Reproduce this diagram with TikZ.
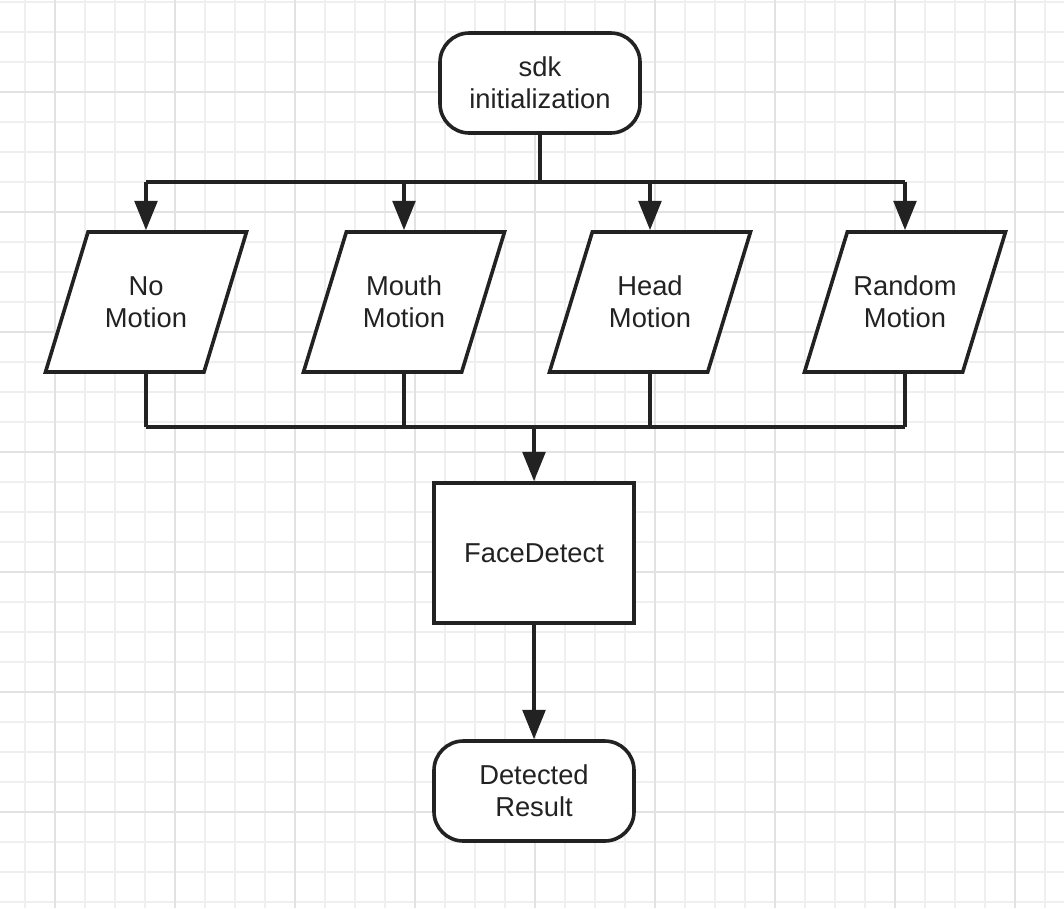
\documentclass[tikz,border=0pt]{standalone}
\usepackage{fontspec}
\setmainfont{Liberation Sans}
\usetikzlibrary{arrows.meta,shapes.geometric}
\definecolor{inkgray}{HTML}{222222}
\definecolor{gridminor}{HTML}{EFEFEF}
\definecolor{gridmajor}{HTML}{E2E2E2}
\tikzset{
	base/.style={draw=inkgray, line width=2.7pt, fill=white, text=inkgray,
		font=\fontsize{20.5}{24}\selectfont, align=center, inner sep=0pt},
	terminal/.style={base, rectangle, rounded corners=22pt,
		minimum width=150pt, minimum height=75pt},
	io/.style={base, trapezium, trapezium left angle=73, trapezium right angle=107,
		trapezium stretches body, inner xsep=0pt, inner ysep=33pt,
		minimum width=150.75pt, minimum height=105pt},
	process/.style={base, rectangle, minimum width=150pt, minimum height=105pt},
	link/.style={draw=inkgray, line width=2.7pt},
	arr/.style={link, -{Triangle[length=22pt,width=17pt]}}
}

\begin{document}
\begin{tikzpicture}[x=0.75pt, y=-0.75pt]
	%%%%% GRID %%%%%
	\fill[white] (0,0) rectangle (1064,908);
	\useasboundingbox (0,0) rectangle (1064,908);
	\begin{scope}[shift={(25,2)}]
		\draw[gridminor, line width=0.8pt, step=22.5pt] (-25,-2) grid (1039,906);
	\end{scope}
	\begin{scope}[shift={(55,92)}]
		\draw[gridmajor, line width=0.9pt, step=90pt] (-55,-92) grid (1009,816);
	\end{scope}
	
	%%%%% NODES %%%%%
	\node[terminal] (init) at (540, 83) {sdk\\initialization};
	
	\node[io] (nomotion) at (146, 302) {No\\Motion};
	\node[io] (mouth) at (404, 302) {Mouth\\Motion};
	\node[io] (head) at (650, 302) {Head\\Motion};
	\node[io] (random) at (905, 302) {Random\\Motion};
	
	\node[process] (detect) at (534, 553) {FaceDetect};
	\node[terminal] (result) at (534, 791) {Detected\\Result};
	
	\coordinate (split) at (540, 182);
	\coordinate (join) at (534, 427);
	
	%%%%% CONNECTORS %%%%%
	\draw[link] (init) -- (split);
	\draw[link] (nomotion |- split) -- (random |- split);
	\draw[arr] (nomotion |- split) -- (nomotion |- nomotion.north);
	\draw[arr] (mouth |- split) -- (mouth |- mouth.north);
	\draw[arr] (head |- split) -- (head |- head.north);
	\draw[arr] (random |- split) -- (random |- random.north);
	
	\draw[link] (nomotion |- nomotion.south) -- (nomotion |- join);
	\draw[link] (mouth |- mouth.south) -- (mouth |- join);
	\draw[link] (head |- head.south) -- (head |- join);
	\draw[link] (random |- random.south) -- (random |- join);
	\draw[link] (nomotion |- join) -- (random |- join);
	
	\draw[arr] (join) -- (detect);
	\draw[arr] (detect) -- (result);
\end{tikzpicture}
\end{document}
